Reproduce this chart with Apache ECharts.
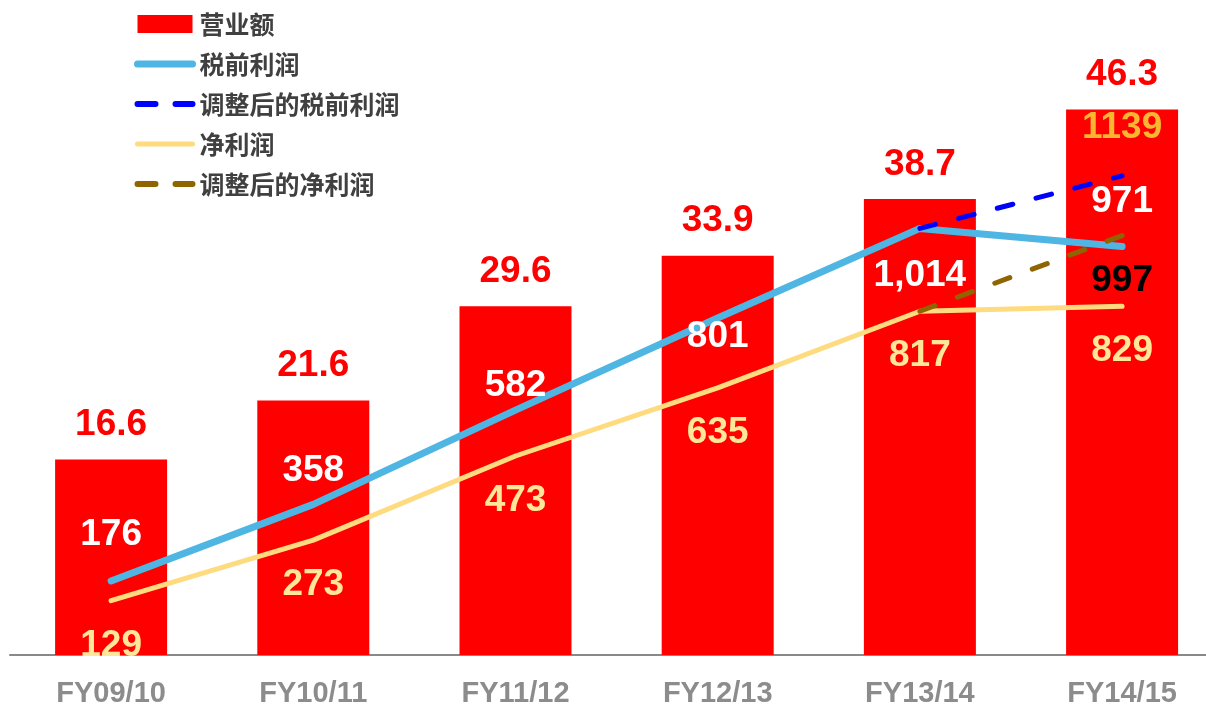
<!DOCTYPE html>
<html>
<head>
<meta charset="utf-8">
<script src="https://cdn.jsdelivr.net/npm/echarts@6/dist/echarts.min.js"></script>
<style>
  html, body { margin: 0; padding: 0; background: #fff; }
  #main { width: 1206px; height: 709px; }
</style>
</head>
<body>
<div id="main"></div>
<script>
var categories = ['FY09/10', 'FY10/11', 'FY11/12', 'FY12/13', 'FY13/14', 'FY14/15'];
var revenue = [16.6, 21.6, 29.6, 33.9, 38.7, 46.3];
var pretax = [176, 358, 582, 801, 1014, 971];
var adjPretax = [null, null, null, null, 1014, 1139];
var netProfit = [129, 273, 473, 635, 817, 829];
var adjNet = [null, null, null, null, 817, 997];

// label shifts (px) for the pretax labels
var pretaxDy = [-46, -34, -24, 19, 47, -45];

var chart = echarts.init(document.getElementById('main'));
var numFont = '"Liberation Sans", Arial, sans-serif';
var cjkFont = '"Noto Sans CJK SC", sans-serif';
var dash = [16, 24];

function fmtThousands(v) {
  return String(v).replace(/\B(?=(\d{3})+(?!\d))/g, ',');
}

function numLabel(color) {
  return {
    show: true,
    position: 'inside',
    fontFamily: numFont,
    fontSize: 37,
    fontWeight: 'bold',
    color: color
  };
}

// x as category index so the axis can run a little past the right edge
function pairs(arr) {
  var out = [];
  arr.forEach(function (v, i) {
    if (v !== null) out.push([i, v]);
  });
  return out;
}

var option = {
  backgroundColor: '#fff',
  animation: false,
  legend: {
    orient: 'vertical',
    left: 129,
    top: 6,
    itemWidth: 55,
    itemHeight: 18,
    itemGap: 14,
    textStyle: {
      fontFamily: cjkFont,
      fontSize: 25,
      lineHeight: 26,
      fontWeight: 'bold',
      color: '#404040',
      padding: [0, 0, 0, 2]
    },
    data: [
      { name: '营业额', icon: 'rect' },
      { name: '税前利润', itemStyle: { opacity: 0 }, lineStyle: { width: 7, cap: 'round' } },
      { name: '调整后的税前利润', itemStyle: { opacity: 0 }, lineStyle: { width: 6, type: [18, 20], cap: 'round' } },
      { name: '净利润', itemStyle: { opacity: 0 }, lineStyle: { width: 5, cap: 'round' } },
      { name: '调整后的净利润', itemStyle: { opacity: 0 }, lineStyle: { width: 6, type: [18, 20], cap: 'round' } }
    ]
  },
  grid: { left: 10, right: 0, top: 66, bottom: 54 },
  xAxis: {
    type: 'value',
    min: -0.5,
    max: 5.415,
    splitLine: { show: false },
    axisLine: { onZero: false, lineStyle: { color: '#898989', width: 2 } },
    axisTick: { show: false },
    axisLabel: {
      customValues: [0, 1, 2, 3, 4, 5],
      formatter: function (v) { return categories[Math.round(v)]; },
      margin: 24,
      fontFamily: numFont,
      fontSize: 29,
      fontWeight: 'bold',
      color: '#8c8c8c'
    }
  },
  yAxis: [
    { type: 'value', min: 0, max: 50, show: false, splitLine: { show: false } },
    { type: 'value', min: 0, max: 1400, show: false, splitLine: { show: false } }
  ],
  series: [
    {
      name: '营业额',
      type: 'bar',
      data: pairs(revenue),
      barWidth: 112,
      itemStyle: { color: '#ff0000' },
      label: Object.assign(numLabel('#ff0000'), {
        position: 'top',
        distance: 16,
        formatter: function (p) { return p.value[1]; }
      }),
      z: 1
    },
    {
      name: '税前利润',
      type: 'line',
      yAxisIndex: 1,
      data: pairs(pretax).map(function (d, i) {
        return { value: d, label: { offset: [0, pretaxDy[i]] } };
      }),
      symbol: 'circle',
      symbolSize: 0,
      lineStyle: { color: '#4fb6e3', width: 7, cap: 'round' },
      itemStyle: { color: '#4fb6e3' },
      label: Object.assign(numLabel('#ffffff'), {
        formatter: function (p) { return fmtThousands(p.value[1]); }
      }),
      z: 3
    },
    {
      name: '净利润',
      type: 'line',
      yAxisIndex: 1,
      data: pairs(netProfit),
      symbol: 'circle',
      symbolSize: 0,
      lineStyle: { color: '#ffdb7f', width: 5, cap: 'round' },
      itemStyle: { color: '#ffdb7f' },
      label: Object.assign(numLabel('#ffe699'), {
        offset: [0, 45],
        formatter: function (p) { return p.value[1]; }
      }),
      z: 3
    },
    {
      name: '调整后的税前利润',
      type: 'line',
      yAxisIndex: 1,
      data: pairs(adjPretax).map(function (d, i, a) {
        return { value: d, label: { show: i === a.length - 1 } };
      }),
      symbol: 'circle',
      symbolSize: 0,
      lineStyle: { color: '#0000ff', width: 5, type: dash, cap: 'round' },
      itemStyle: { color: '#0000ff' },
      label: Object.assign(numLabel('#f9b731'), {
        offset: [0, -48],
        formatter: function (p) { return p.value[1]; }
      }),
      z: 4
    },
    {
      name: '调整后的净利润',
      type: 'line',
      yAxisIndex: 1,
      data: pairs(adjNet).map(function (d, i, a) {
        return { value: d, label: { show: i === a.length - 1 } };
      }),
      symbol: 'circle',
      symbolSize: 0,
      lineStyle: { color: '#8e6500', width: 5, type: dash, cap: 'round' },
      itemStyle: { color: '#8e6500' },
      label: Object.assign(numLabel('#000000'), {
        offset: [0, 45],
        formatter: function (p) { return p.value[1]; }
      }),
      z: 4
    }
  ]
};

chart.setOption(option);
</script>
</body>
</html>
